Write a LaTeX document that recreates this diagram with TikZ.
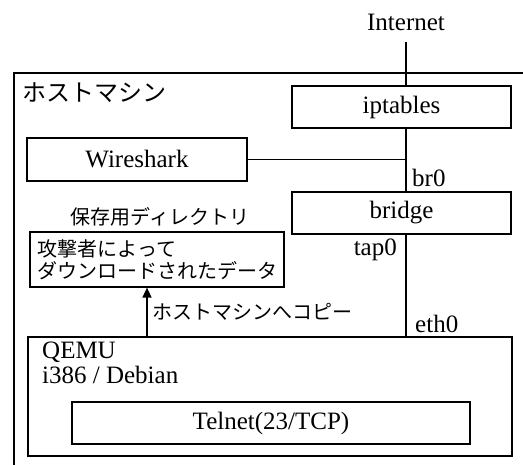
\documentclass[tikz,border=0pt]{standalone}
\usepackage{fontspec}
\setmainfont{Liberation Serif}
\newfontfamily\jp{Noto Sans CJK JP}
\usetikzlibrary{arrows.meta}
\begin{document}
\begin{tikzpicture}[x=1pt,y=-1pt,
  box/.style={draw, line width=1.6pt, inner sep=0pt},
  lbl/.style={inner sep=0pt, font=\fontsize{25}{29}\selectfont},
  jlbl/.style={inner sep=0pt, font=\fontsize{20}{23}\selectfont\jp},
  conn/.style={line width=1.6pt}]
\useasboundingbox (0,0) rectangle (523,464);
\begin{scope}
\clip (0,0) rectangle (523,464);
\node[box, anchor=north west, minimum width=540pt, minimum height=420pt] (host) at (13,72) {};
\end{scope}
\node[jlbl, anchor=west, font=\fontsize{24}{28}\selectfont\jp] (hostlbl) at (22,93) {ホストマシン};
\node[lbl] (inet) at (406,22) {Internet};
\coordinate (L) at (406,0);
\coordinate (A) at (147,0);
\coordinate (itop) at (406,42);
\node[box, lbl, minimum width=219pt, minimum height=42pt] (ipt) at (401.5,107) {iptables};
\node[box, lbl, minimum width=220pt, minimum height=43pt] (ws) at (137,159.5) {Wireshark};
\node[box, lbl, minimum width=219pt, minimum height=42pt] (br) at (401.5,213) {bridge};
\node[lbl, anchor=west] (br0) at (412,178) {br0};
\node[lbl, anchor=east] (tap0) at (397,250) {tap0};
\node[lbl, anchor=west] (eth0) at (415,324) {eth0};
\node[jlbl] (dirlbl) at (160,217) {保存用ディレクトリ};
\node[box, jlbl, draw, inner xsep=8pt, align=left, text width=238pt, minimum height=55pt, anchor=north west] (dir) at (29,231) {攻撃者によって\\[-1pt]ダウンロードされたデータ};
\node[box, anchor=north west, minimum width=484pt, minimum height=119pt] (qemu) at (27,336) {};
\node[lbl, anchor=west] (qemulbl) at (42,352) {QEMU};
\node[lbl, anchor=west] (oslbl) at (42,375) {i386 / Debian};
\node[box, lbl, line width=2.8pt, minimum width=398pt, minimum height=42pt] (tel) at (271,423) {Telnet(23/TCP)};
\node[jlbl, anchor=west] (copylbl) at (152,312) {ホストマシンへコピー};
\draw[conn] (itop) -- (itop |- ipt.north);
\draw[conn] (ipt.south -| L) -- (br.north -| L);
\draw[conn] (ws.east) -- (ws.east -| L);
\draw[conn] (br.south -| L) -- (qemu.north -| L);
\draw[conn, -{Triangle[length=10pt,width=9pt]}] (qemu.north -| A) -- (dir.south -| A);
\end{tikzpicture}
\end{document}
